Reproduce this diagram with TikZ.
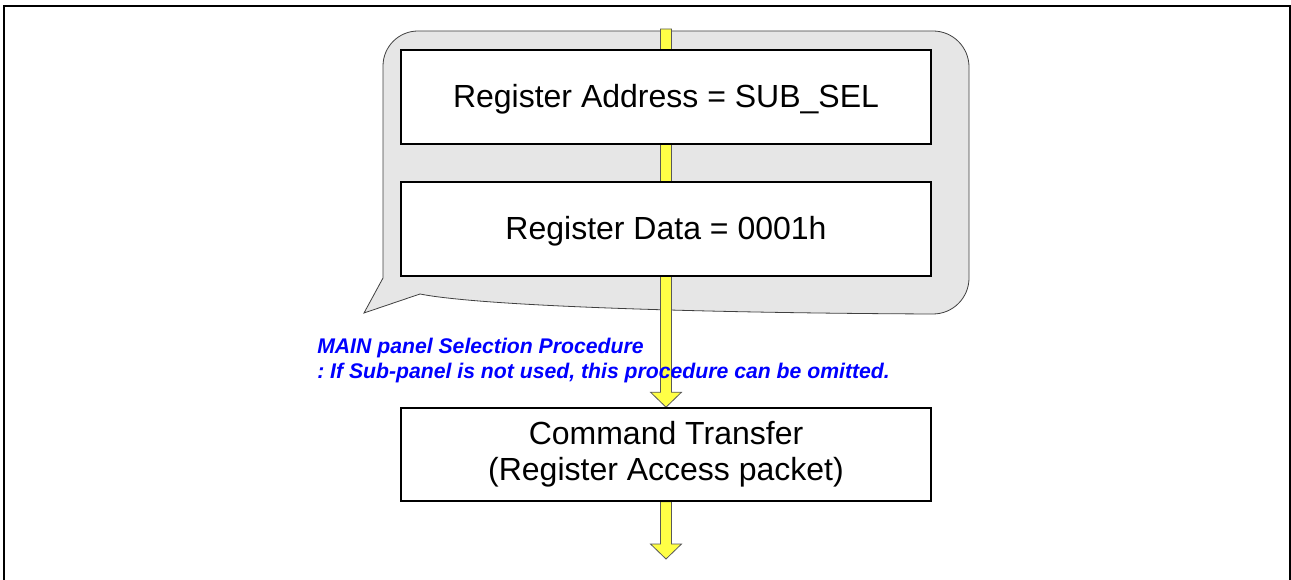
\documentclass[tikz,border=0pt]{standalone}
\usepackage{fontspec}
\setmainfont{Liberation Sans}
\usetikzlibrary{calc}
\definecolor{calloutgray}{RGB}{230,230,230}
\definecolor{flowyellow}{RGB}{255,255,70}
\pgfdeclarelayer{background}
\pgfsetlayers{background,main}
\frenchspacing
\tikzset{regbox/.style={draw,fill=white,line width=1.2pt,minimum width=397.5pt,minimum height=70.5pt,inner sep=0pt,align=center,font=\fontsize{24}{27}\selectfont},
flowarrow/.style={fill=flowyellow,draw=black!65,line width=.6pt,line join=miter},
note/.style={anchor=base west,inner sep=0pt,text=blue,font=\fontsize{15.9}{19}\selectfont\bfseries\itshape}}

\begin{document}
\begin{tikzpicture}[x=.75pt,y=-.75pt]
\useasboundingbox (0,0) rectangle (1291,580);
\draw[line width=1.6pt] (4,580)--(4,6)--(1290,6)--(1290,580);
\coordinate (top) at (666,29);\coordinate (tip) at (666,559);
\node[regbox,text depth=1.5pt] (addr) at (666,97) {Register Address = SUB\_SEL};
\node[regbox,text depth=1.5pt] (data) at (666,229) {Register Data = 0001h};
\node[regbox,minimum height=69.75pt] (cmd) at (666,454.5) {Command Transfer\\(Register Access packet)};
\node[note] (sel) at (317,354) {MAIN panel Selection Procedure};
\node[note] (omit) at (317,379) {: If Sub-panel is not used, this procedure can be omitted.};
\begin{pgfonlayer}{background}
% callout
\draw[fill=calloutgray,draw=black!75,line width=.6pt] (383,66) arc[start angle=180,end angle=270,radius=35]
 -- (933,31) arc[start angle=270,end angle=360,radius=36] -- (969,278) arc[start angle=0,end angle=90,radius=36]
 .. controls (700,313) and (480,306) .. (420,294) -- (364,313) -- (383,278) -- cycle;
% arrows
\draw[flowarrow] ($(top)+(-5.5,0)$) -- ($(cmd.north)+(-5.5,-15)$) -- ($(cmd.north)+(-15.5,-15)$) -- (cmd.north)
 -- ($(cmd.north)+(15.5,-15)$) -- ($(cmd.north)+(5.5,-15)$) -- ($(top)+(5.5,0)$) -- cycle;
\draw[flowarrow] ($(cmd.south)+(-5.5,0)$) -- ($(tip)+(-5.5,-15)$) -- ($(tip)+(-15.5,-15)$) -- (tip)
 -- ($(tip)+(15.5,-15)$) -- ($(tip)+(5.5,-15)$) -- ($(cmd.south)+(5.5,0)$) -- cycle;
\end{pgfonlayer}
\end{tikzpicture}
\end{document}
